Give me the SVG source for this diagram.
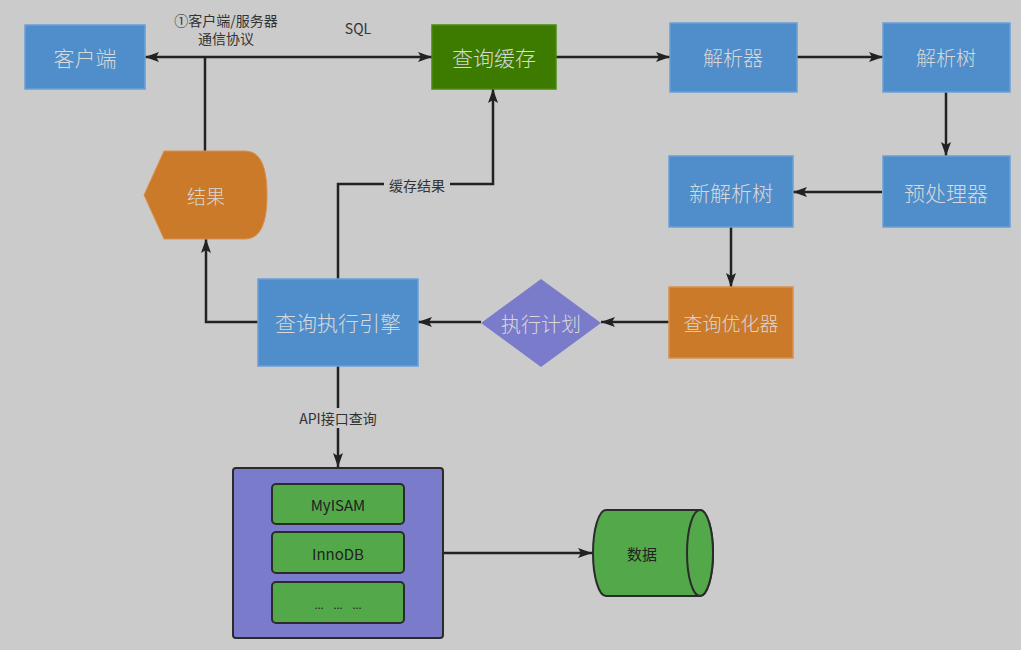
<svg xmlns="http://www.w3.org/2000/svg" width="1021" height="650" viewBox="0 0 1021 650">
<defs>
<marker id="ah" viewBox="0 0 14 10" refX="14" refY="5" markerWidth="14" markerHeight="10" markerUnits="userSpaceOnUse" orient="auto-start-reverse">
<path d="M0,0 L14,5 L0,10 L3,5 Z" fill="#222"/>
</marker>
</defs>
<style>
.bg{fill:#cbcbcb}
.blue{fill:#4f8ecb;stroke:#6a9fd6;stroke-width:1.5}
.ntext{font-family:"Noto Sans CJK SC","Microsoft YaHei",sans-serif;fill:#d8d8d8;text-anchor:middle;dominant-baseline:central;font-weight:300}
.ltext{font-family:"Noto Sans CJK SC","Microsoft YaHei",sans-serif;fill:#333;text-anchor:middle;dominant-baseline:central;font-size:14px}
.line{fill:none;stroke:#222;stroke-width:2.5}
.eng{fill:#53a84a;stroke:#2b2b2b;stroke-width:2}
</style>
<rect class="bg" x="0" y="0" width="1021" height="650"/>

<g id="connectors">
<path class="line" d="M145,57 L432,57" marker-start="url(#ah)" marker-end="url(#ah)"/>
<path class="line" d="M205,57 L205,151"/>
<path class="line" d="M556,57 L670,57" marker-end="url(#ah)"/>
<path class="line" d="M797,57 L883,57" marker-end="url(#ah)"/>
<path class="line" d="M946,92 L946,156" marker-end="url(#ah)"/>
<path class="line" d="M882,192 L793,192" marker-end="url(#ah)"/>
<path class="line" d="M731,227 L731,287" marker-end="url(#ah)"/>
<path class="line" d="M669,322 L601,322" marker-end="url(#ah)"/>
<path class="line" d="M481,322 L418,322" marker-end="url(#ah)"/>
<path class="line" d="M258,322 L206,322 L206,239" marker-end="url(#ah)"/>
<path class="line" d="M338,279 L338,184 L493,184 L493,89" marker-end="url(#ah)"/>
<path class="line" d="M338,366 L338,467" marker-end="url(#ah)"/>
<path class="line" d="M443,553 L592,553" marker-end="url(#ah)"/>
<rect class="bg" x="384" y="175" width="66" height="20"/>
<text class="ltext" x="417" y="185">缓存结果</text>
<rect class="bg" x="292" y="408" width="92" height="20"/>
<text class="ltext" x="338" y="418">API接口查询</text>
<text class="ltext" x="226" y="20">①客户端/服务器</text>
<text class="ltext" x="226" y="38">通信协议</text>
<text class="ltext" x="358" y="28">SQL</text>
</g>

<g id="client">
<rect class="blue" x="25" y="25" width="120" height="64"/>
<text class="ntext" x="85" y="57" font-size="21">客户端</text>
</g>
<g id="querycache">
<rect x="432" y="25" width="124" height="64" fill="#3d7a00" stroke="#4a8a10" stroke-width="1.5"/>
<text class="ntext" x="494" y="57" font-size="21">查询缓存</text>
</g>
<g id="parser">
<rect class="blue" x="670" y="23" width="127" height="69"/>
<text class="ntext" x="733" y="57" font-size="20">解析器</text>
</g>
<g id="parsetree">
<rect class="blue" x="883" y="23" width="127" height="69"/>
<text class="ntext" x="946" y="57" font-size="20">解析树</text>
</g>
<g id="preprocessor">
<rect class="blue" x="883" y="156" width="127" height="71"/>
<text class="ntext" x="946" y="192" font-size="21">预处理器</text>
</g>
<g id="newparsetree">
<rect class="blue" x="669" y="156" width="124" height="71"/>
<text class="ntext" x="731" y="192" font-size="21">新解析树</text>
</g>
<g id="optimizer">
<rect x="669" y="287" width="124" height="71" fill="#cb7a2a" stroke="#d99050" stroke-width="1.5"/>
<text class="ntext" x="731" y="322" font-size="19">查询优化器</text>
</g>
<g id="plan">
<polygon points="541,279 601,323 541,367 481,323" fill="#7b7bcb"/>
<text class="ntext" x="541" y="323" font-size="20">执行计划</text>
</g>
<g id="engine">
<rect class="blue" x="258" y="279" width="160" height="87"/>
<text class="ntext" x="338" y="322" font-size="21">查询执行引擎</text>
</g>
<g id="result">
<path d="M164,151 L245,151 C262,151 267,170 267,195 C267,220 262,239 245,239 L164,239 L144,195 Z" fill="#cb7a2a" stroke="#d99050" stroke-width="1"/>
<text class="ntext" x="206" y="195" font-size="19">结果</text>
</g>
<g id="storage">
<rect x="233" y="468" width="210" height="170" rx="3" fill="#7b7bcb" stroke="#2b2b2b" stroke-width="2"/>
</g>
<g id="myisam">
<rect class="eng" x="272" y="484" width="132" height="40" rx="4"/>
<text class="ltext" x="338" y="504" style="font-size:15px;fill:#222">MyISAM</text>
</g>
<g id="innodb">
<rect class="eng" x="272" y="532" width="132" height="41" rx="4"/>
<text class="ltext" x="338" y="553" style="font-size:15px;fill:#222">InnoDB</text>
</g>
<g id="others">
<rect class="eng" x="272" y="582" width="132" height="41" rx="4"/>
<text class="ltext" x="338" y="604" style="font-size:11px;fill:#222;white-space:pre" xml:space="preserve">...    ...    ...</text>
</g>
<g id="data">
<path d="M606,510 L700,510 A13,43 0 0 1 700,596 L606,596 A13,43 0 0 1 606,510 Z" fill="#53a84a" stroke="#2b2b2b" stroke-width="2"/>
<ellipse cx="700" cy="553" rx="13" ry="43" fill="#53a84a" stroke="#2b2b2b" stroke-width="2"/>
<text class="ltext" x="642" y="553" style="font-size:15px;fill:#222">数据</text>
</g>
</svg>
